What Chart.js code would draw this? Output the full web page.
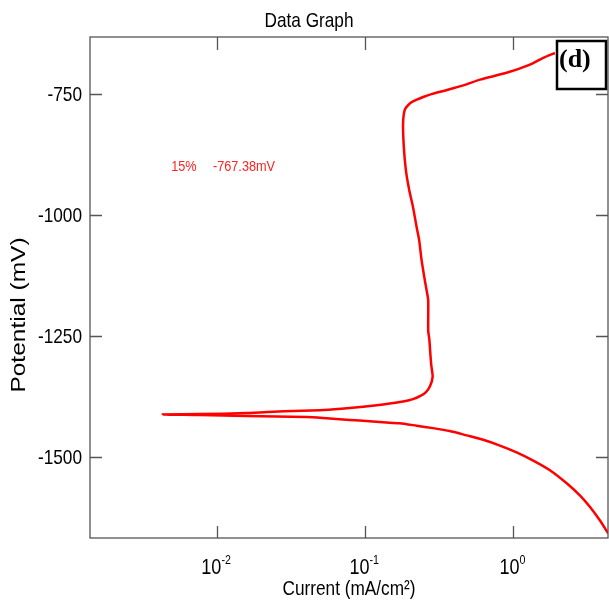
<!DOCTYPE html>
<html>

<head>
  <title>Data Graph</title>
  <script src="https://cdn.jsdelivr.net/npm/chart.js"></script>
  <style>
    body { margin: 0; background: #fff; }
  </style>
</head>

<body>
  <canvas id="myChart" width="609" height="602"></canvas>
  <script>
    // scan goes cathodic end -> Ecorr tip -> anodic branch
    const current = [4.37, 3.84, 3.29, 2.81, 2.29, 1.764, 1.361, 1.051, 0.811, 0.625,
      0.483, 0.372, 0.287, 0.222, 0.171, 0.146, 0.107, 0.0786, 0.0519, 0.0401,
      0.0158, 0.00762, 0.0043, 0.00762, 0.0158, 0.0286, 0.0493, 0.0691, 0.0967, 0.132,
      0.180, 0.210, 0.234, 0.256, 0.273, 0.285, 0.279, 0.276, 0.271, 0.266,
      0.266, 0.258, 0.250, 0.240, 0.231, 0.222, 0.210, 0.198, 0.188, 0.182,
      0.180, 0.185, 0.197, 0.210, 0.246, 0.273, 0.361, 0.470, 0.594, 0.900,
      1.293, 1.590, 1.907];
    const potential = [-1658, -1631, -1603, -1579, -1554, -1527, -1507, -1490, -1476, -1464,
      -1455, -1446, -1440, -1435, -1430, -1429, -1426, -1423, -1419, -1417,
      -1415, -1413, -1412, -1411, -1409, -1405, -1403, -1400, -1396, -1391,
      -1385, -1380, -1374, -1366, -1354, -1334, -1310, -1293, -1258, -1238,
      -1176, -1151, -1127, -1093, -1051, -1024, -983, -948, -907, -858,
      -810, -782, -771, -765, -756, -751, -741, -731, -720, -706,
      -689, -675, -665];
    const yTicks = [-1500, -1250, -1000, -750];
    const xTicks = [0.01, 0.1, 1];
    const xTickExp = ['-2', '-1', '0'];
    const noteText = ['15%', '-767.38mV'];
    const noteX = [0.0049, 0.00937];
    const noteY = -900;

    const sans = "'Liberation Sans', Arial, sans-serif";
    const squeeze = 0.82; // text in the original is horizontally condensed

    // draw condensed text
    function sq(ctx, text, x, y, size, align) {
      ctx.save();
      ctx.translate(x, y);
      ctx.scale(squeeze, 1);
      ctx.font = size + 'px ' + sans;
      ctx.textAlign = align;
      ctx.fillText(text, 0, 0);
      ctx.restore();
    }

    const frame = {
      id: 'frame',
      afterDraw(chart) {
        const { ctx, chartArea: a, scales: { x, y } } = chart;
        ctx.save();
        ctx.strokeStyle = '#555';
        ctx.lineWidth = 1.3;
        ctx.strokeRect(a.left, a.top, a.right - a.left, a.bottom - a.top);
        ctx.beginPath();
        yTicks.forEach(v => {
          const py = Math.round(y.getPixelForValue(v)) + 0.5;
          ctx.moveTo(a.left, py); ctx.lineTo(a.left + 12, py);
          ctx.moveTo(a.right, py); ctx.lineTo(a.right - 12, py);
        });
        xTicks.forEach(v => {
          const px = Math.round(x.getPixelForValue(v)) + 0.5;
          ctx.moveTo(px, a.top); ctx.lineTo(px, a.top + 13);
          ctx.moveTo(px, a.bottom); ctx.lineTo(px, a.bottom - 12);
        });
        ctx.stroke();

        ctx.fillStyle = '#000';
        ctx.textBaseline = 'middle';
        // title
        sq(ctx, 'Data Graph', 309, 21, 21, 'center');
        // y tick labels
        yTicks.forEach(v => sq(ctx, String(v), a.left - 8, y.getPixelForValue(v) + 1, 21, 'right'));
        // x axis title
        sq(ctx, 'Current (mA/cm²)', (a.left + a.right) / 2, 589, 21, 'center');

        // x tick labels 10^n
        ctx.textBaseline = 'alphabetic';
        xTicks.forEach((v, i) => {
          const px = x.getPixelForValue(v);
          ctx.font = '22px ' + sans;
          const w1 = ctx.measureText('10').width * squeeze;
          ctx.font = '13px ' + sans;
          const w2 = ctx.measureText(xTickExp[i]).width * squeeze;
          const x0 = px - (w1 + w2) / 2 - 1;
          sq(ctx, '10', x0, a.bottom + 36, 22, 'left');
          sq(ctx, xTickExp[i], x0 + w1, a.bottom + 26, 13, 'left');
        });

        // y axis title
        ctx.save();
        ctx.translate(19, 315);
        ctx.rotate(-Math.PI / 2);
        ctx.scale(1, squeeze);
        ctx.font = '24.5px ' + sans;
        ctx.textAlign = 'center';
        ctx.textBaseline = 'middle';
        ctx.fillText('Potential (mV)', 0, 0);
        ctx.restore();

        // red note
        ctx.fillStyle = '#ff2222';
        ctx.textBaseline = 'middle';
        noteText.forEach((t, i) => {
          sq(ctx, t, x.getPixelForValue(noteX[i]), y.getPixelForValue(noteY), 15.5, 'left');
        });

        // (d) box
        const bx = a.right - 51, by = a.top + 4;
        ctx.fillStyle = '#fff';
        ctx.fillRect(bx, by, 49, 48);
        ctx.strokeStyle = '#000';
        ctx.lineWidth = 2.5;
        ctx.strokeRect(bx, by, 49, 48);
        ctx.fillStyle = '#000';
        ctx.textAlign = 'left';
        ctx.font = "bold 26px 'Liberation Serif', 'Times New Roman', serif";
        ctx.fillText('(d)', bx + 2, by + 19);
        ctx.restore();
      }
    };

    const ctx = document.getElementById('myChart').getContext('2d');
    new Chart(ctx, {
      type: 'scatter',
      data: {
        datasets: [{
          data: current.map((c, i) => ({ x: c, y: potential[i] })),
          showLine: true,
          borderColor: '#ff0000',
          borderWidth: 2.5,
          pointRadius: 0,
          tension: 0.2
        }]
      },
      options: {
        responsive: false,
        animation: false,
        events: [],
        layout: { padding: { top: 37, right: 1 } },
        plugins: {
          legend: { display: false },
          tooltip: { enabled: false },
          title: { display: false }
        },
        scales: {
          x: {
            type: 'logarithmic',
            min: 0.001387,
            max: 4.35,
            ticks: { display: false },
            grid: { display: false, drawTicks: false },
            border: { display: false },
            afterFit(s) { s.height = 64; }
          },
          y: {
            type: 'linear',
            min: -1667,
            max: -632,
            afterBuildTicks(s) { s.ticks = yTicks.map(v => ({ value: v })); },
            ticks: { display: false },
            grid: { display: false, drawTicks: false },
            border: { display: false },
            afterFit(s) { s.width = 90; }
          }
        }
      },
      plugins: [frame]
    });
  </script>
</body>

</html>
